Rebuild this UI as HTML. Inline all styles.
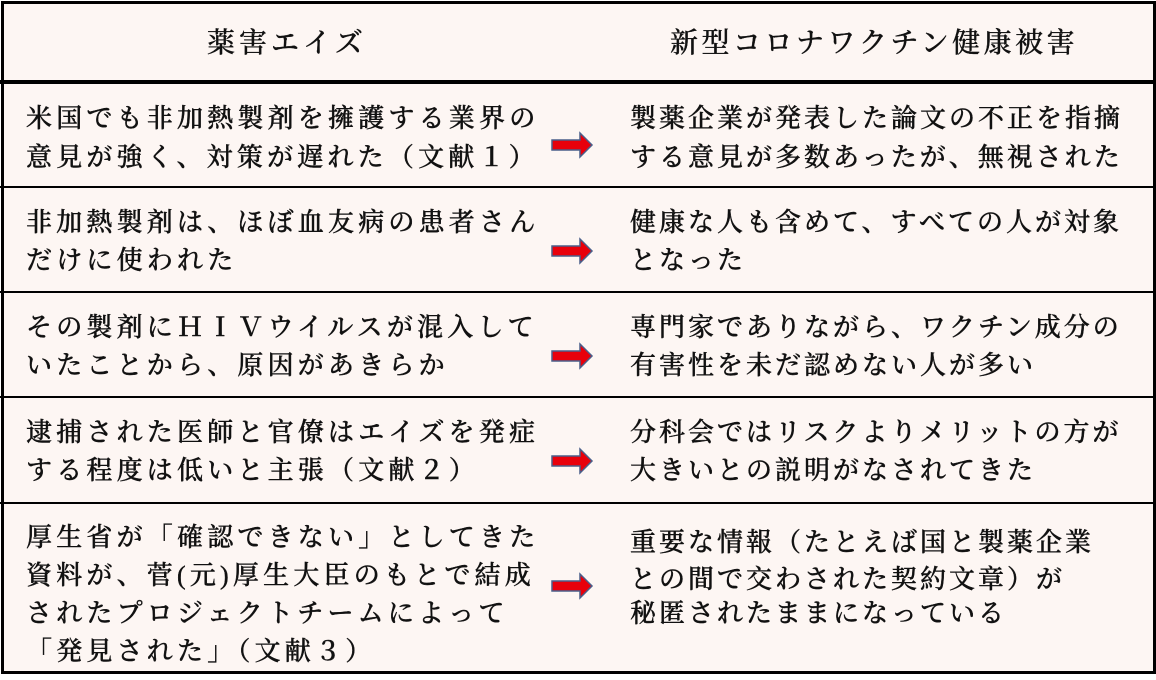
<!DOCTYPE html>
<html><head><meta charset="utf-8"><style>
html,body{margin:0;padding:0;}
body{width:1156px;height:680px;background:#fff;position:relative;overflow:hidden;font-family:"Liberation Serif","Noto Serif CJK SC","Noto Serif CJK JP",serif;color:#111;}
.box{position:absolute;left:1px;top:1px;width:1149px;height:667px;border:3px solid #000;background:#fdf6f3;}
.hl{position:absolute;left:0;width:1156px;background:#000;}
.t{position:absolute;font-size:26px;letter-spacing:4.2px;white-space:nowrap;line-height:30px;font-weight:500;-webkit-text-stroke:0.4px #111;}
.r{letter-spacing:3.0px;}
.h{position:absolute;font-size:28px;letter-spacing:4px;white-space:nowrap;line-height:32px;font-weight:500;-webkit-text-stroke:0.3px #111;}
svg{position:absolute;}
</style></head><body>
<div class="box"></div>
<div class="hl" style="top:80px;height:4px"></div>
<div class="hl" style="top:186px;height:2px"></div>
<div class="hl" style="top:291px;height:2px"></div>
<div class="hl" style="top:396px;height:2px"></div>
<div class="hl" style="top:502px;height:2px"></div>

<div class="h" style="left:207px;top:28px">薬害エイズ</div>
<div class="h" style="left:670px;top:28px;letter-spacing:3.5px">新型コロナワクチン健康被害</div>

<div class="t" style="left:26px;top:104px">米国でも非加熱製剤を擁護する業界の</div>
<div class="t" style="left:26px;top:143px">意見が強く、対策が遅れた（文献１）</div>
<div class="t r" style="left:630px;top:104px">製薬企業が発表した論文の不正を指摘</div>
<div class="t r" style="left:630px;top:143px">する意見が多数あったが、無視された</div>

<div class="t" style="left:26px;top:208px">非加熱製剤は、ほぼ血友病の患者さん</div>
<div class="t" style="left:26px;top:246px">だけに使われた</div>
<div class="t r" style="left:630px;top:208px">健康な人も含めて、すべての人が対象</div>
<div class="t r" style="left:630px;top:246px">となった</div>

<div class="t" style="left:26px;top:313px">その製剤にＨＩＶウイルスが混入して</div>
<div class="t" style="left:26px;top:351px">いたことから、原因があきらか</div>
<div class="t r" style="left:630px;top:313px">専門家でありながら、ワクチン成分の</div>
<div class="t r" style="left:630px;top:351px">有害性を未だ認めない人が多い</div>

<div class="t" style="left:26px;top:418px">逮捕された医師と官僚はエイズを発症</div>
<div class="t" style="left:26px;top:456px">する程度は低いと主張（文献２）</div>
<div class="t r" style="left:630px;top:418px">分科会ではリスクよりメリットの方が</div>
<div class="t r" style="left:630px;top:456px">大きいとの説明がなされてきた</div>

<div class="t" style="left:26px;top:523px">厚生省が「確認できない」としてきた</div>
<div class="t" style="left:26px;top:561px">資料が、菅(元)厚生大臣のもとで結成</div>
<div class="t" style="left:26px;top:599px">されたプロジェクトチームによって</div>
<div class="t" style="left:26px;top:637px">「発見された」（文献３）</div>
<div class="t r" style="left:630px;top:528px">重要な情報（たとえば国と製薬企業</div>
<div class="t r" style="left:630px;top:565px">との間で交わされた契約文章）が</div>
<div class="t r" style="left:630px;top:599px">秘匿されたままになっている</div>

<svg width="1156" height="680" style="left:0;top:0">
<g fill="#e8000b" stroke="#4a5f8a" stroke-width="1.5">
<path d="M552,140 H580 V133 L592,145 L580,157 V150 H552 Z"/>
<path d="M552,246 H580 V239 L592,251 L580,263 V256 H552 Z"/>
<path d="M552,351 H580 V344 L592,356 L580,368 V361 H552 Z"/>
<path d="M552,456 H580 V449 L592,461 L580,473 V466 H552 Z"/>
<path d="M552,581 H580 V574 L592,586 L580,598 V591 H552 Z"/>
</g>
</svg>
</body></html>
